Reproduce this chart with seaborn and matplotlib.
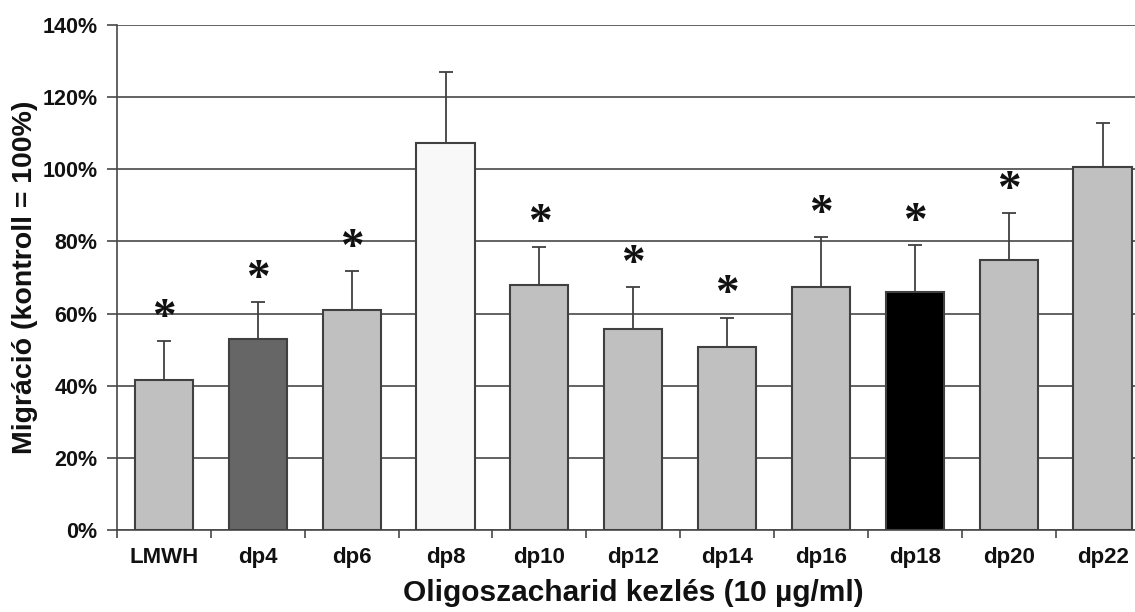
import matplotlib
matplotlib.use("Agg")
import matplotlib.pyplot as plt
import seaborn as sns
import pandas as pd
import numpy as np
from matplotlib.ticker import FixedLocator, PercentFormatter

categories = ["LMWH", "dp4", "dp6", "dp8", "dp10", "dp12", "dp14", "dp16", "dp18", "dp20", "dp22"]
values = [41.6, 53.0, 61.0, 107.2, 67.9, 55.7, 50.6, 67.5, 66.0, 74.8, 100.5]
errors = [10.8, 10.2, 10.8, 19.8, 10.6, 11.6, 8.2, 13.6, 12.9, 13.0, 12.3]
significant = [True, True, True, False, True, True, True, True, True, True, False]
colors = ["#c0c0c0", "#666666", "#c0c0c0", "#f8f8f8", "#c0c0c0", "#c0c0c0",
          "#c0c0c0", "#c0c0c0", "#000000", "#c0c0c0", "#c0c0c0"]

df = pd.DataFrame({"cat": categories, "val": values, "err": errors})

sns.set_theme(style="white")
plt.rcParams["font.family"] = ["Liberation Sans", "DejaVu Sans"]

fig = plt.figure(figsize=(11.35, 6.12), dpi=100)
ax = fig.add_axes([117/1135, 1-530/612, (1149.5-117)/1135, (530-25)/612])

sns.barplot(data=df, x="cat", y="val", hue="cat", palette=colors, legend=False,
            width=0.62, edgecolor="#404040", linewidth=1.5, ax=ax, zorder=3)

x = np.arange(len(categories))
ax.errorbar(x, values, yerr=[np.zeros(len(values)), errors], fmt="none",
            ecolor="#404040", elinewidth=1.3, capsize=5, capthick=1.3, zorder=4)

for xi, v, e, s in zip(x, values, errors, significant):
    if s:
        ax.text(xi, v + e + 7.6, "*", ha="center", va="center_baseline",
                fontsize=34, fontweight="bold", family="Liberation Serif",
                color="#111111", zorder=5)

ax.set_ylim(0, 140)
ax.set_xlim(-0.5, len(categories) - 0.5)
ax.set_yticks(np.arange(0, 141, 20))
ax.yaxis.set_major_formatter(PercentFormatter(decimals=0))
ax.yaxis.grid(True, color="#484848", linewidth=1.2, zorder=0)
ax.set_axisbelow(True)

for sp in ["top", "right"]:
    ax.spines[sp].set_visible(False)
for sp in ["left", "bottom"]:
    ax.spines[sp].set_color("#484848")
    ax.spines[sp].set_linewidth(1.2)

ax.set_xticks(x)
ax.set_xticklabels(categories, fontsize=16, fontweight="bold", color="#111111")
ax.tick_params(axis="x", which="major", length=0, pad=12)
ax.xaxis.set_minor_locator(FixedLocator(np.arange(-0.5, len(categories), 1.0)))
ax.tick_params(axis="x", which="minor", length=6, width=1.2, color="#484848",
               direction="out", bottom=True)
ax.tick_params(axis="y", length=7, width=1.2, color="#484848", direction="out",
               left=True, labelsize=15.5, pad=7)
for lab in ax.get_yticklabels():
    lab.set_fontweight("bold")
    lab.set_color("#111111")

ax.set_xlabel("Oligoszacharid kezlés (10 µg/ml)", fontsize=21.5, fontweight="bold",
              color="#111111", labelpad=8)
ax.set_ylabel("Migráció (kontroll = 100%)", fontsize=20.5, fontweight="bold",
              color="#111111", labelpad=3)

fig.savefig("out.png", dpi=100)
